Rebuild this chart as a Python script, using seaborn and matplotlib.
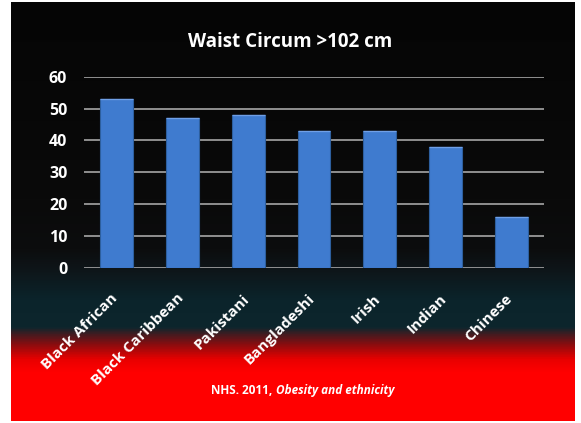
import numpy as np
import seaborn as sns
import matplotlib.pyplot as plt
import matplotlib.transforms as mtransforms
from matplotlib.colors import LinearSegmentedColormap

# --- DATA ---
groups = ['Black African', 'Black Caribbean', 'Pakistani', 'Bangladeshi', 'Irish', 'Indian', 'Chinese']
values = [53, 47, 48, 43, 43, 38, 16]
y_ticks = [0, 10, 20, 30, 40, 50, 60]

title = 'Waist Circum >102 cm'
source = 'NHS. 2011,'
source_italic = 'Obesity and ethnicity'

sns.set_theme(style="white")
plt.rcParams['font.family'] = ['Open Sans', 'DejaVu Sans']

W, H = 581, 423
fig = plt.figure(figsize=(W / 100, H / 100), dpi=100)
fig.patch.set_facecolor('white')

# --- BACKGROUND (black -> teal -> red) ---
top, bot = 2, 421
stops = [(2, '#050505'), (200, '#0a0a0a'), (250, '#0c0d0e'), (272, '#0e161a'),
         (300, '#0b242b'), (328, '#0d262d'), (336, '#4a1a1f'), (346, '#900c0e'),
         (360, '#e80000'), (373, '#ff0000'), (421, '#ff0000')]
cmap = LinearSegmentedColormap.from_list(
    'bg', [((y - top) / (bot - top), c) for y, c in stops])
bg = fig.add_axes([11 / W, (H - bot) / H, (575 - 11) / W, (bot - top) / H])
bg.imshow(np.linspace(0, 1, 512).reshape(-1, 1), aspect='auto', cmap=cmap)
bg.axis('off')
bg.set_zorder(0)

# --- BARS ---
ax = fig.add_axes([84 / W, (H - 267.7) / H, 460 / W, 191 / H])
ax.set_zorder(1)
ax.patch.set_alpha(0)
sns.barplot(x=groups, y=values, color='#3f7bcf', width=0.5, saturation=1,
            edgecolor='#2d5f9e', linewidth=0.8, ax=ax, zorder=3)
for p in ax.patches:
    ax.plot([p.get_x(), p.get_x() + p.get_width()], [p.get_height()] * 2,
            color='#6f9fe6', lw=1.0, zorder=4, solid_capstyle='butt')

ax.set_ylim(0, 60)
ax.set_xlim(-0.5, len(groups) - 0.5)
ax.set_yticks(y_ticks)
ax.yaxis.grid(True, color='#a6a6a6', linewidth=1.2)
ax.set_axisbelow(True)
for s in ax.spines.values():
    s.set_visible(False)
ax.tick_params(axis='y', length=0, pad=12, labelsize=11.5, labelcolor='white')
ax.tick_params(axis='x', length=0, pad=4, labelsize=11, labelcolor='white')
for lab in ax.get_yticklabels():
    lab.set_fontweight('bold')
ax.set_xticks(range(len(groups)))
ax.set_xticklabels(groups, rotation=45, ha='right', va='top',
                   rotation_mode='anchor', fontweight='bold')
shift = mtransforms.ScaledTranslation(-6 / 100, -18 / 100, fig.dpi_scale_trans)
for lab in ax.get_xticklabels():
    lab.set_transform(lab.get_transform() + shift)
ax.set_xlabel('')
ax.set_ylabel('')

fig.text(290 / W, (H - 42) / H, title, color='white', fontsize=13.5,
         fontweight='bold', ha='center', va='center')
fig.text(272 / W, (H - 390) / H, source, color='white', fontsize=8.5,
         fontweight='bold', ha='right', va='center')
fig.text(276 / W, (H - 390) / H, source_italic, color='white', fontsize=8.5,
         fontweight='bold', style='italic', ha='left', va='center')

fig.savefig('out.png', dpi=100)
